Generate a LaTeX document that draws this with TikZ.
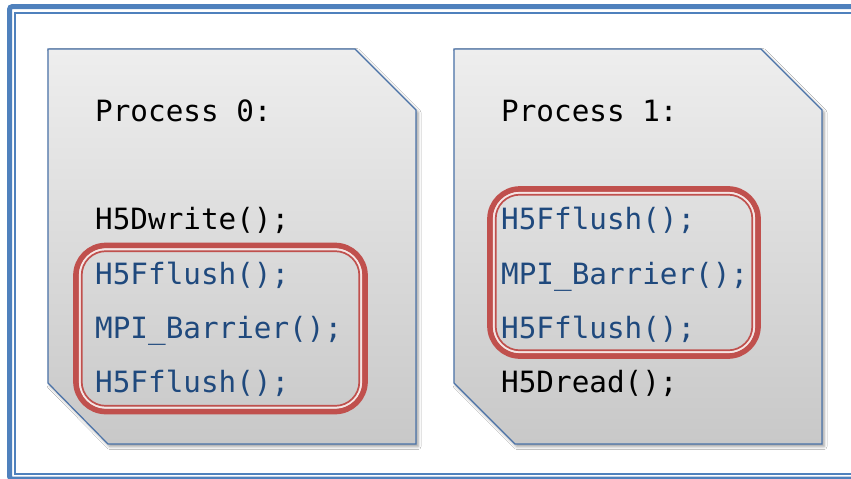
\documentclass[tikz,border=0pt]{standalone}
\usepackage{fontspec}
\newfontfamily\codefont{DejaVu Sans Mono}
\usetikzlibrary{shadows.blur}
\definecolor{frameblue}{HTML}{4F81BD}
\definecolor{cardedge}{HTML}{4A72A8}
\definecolor{cardtop}{HTML}{EEEEEE}
\definecolor{cardbot}{HTML}{C8C8C8}
\definecolor{syncred}{HTML}{C0504D}
\definecolor{callblue}{RGB}{31,73,125}
\tikzset{
  card/.style={draw=cardedge, line width=1.2pt, top color=cardtop, bottom color=cardbot,
    blur shadow={shadow xshift=2pt, shadow yshift=-2.5pt, shadow blur radius=3pt, shadow opacity=40}},
  code/.style={anchor=base west, inner sep=0pt, font=\codefont\fontsize{29.3}{34}\selectfont},
  plain/.style={code, text=black},
  sync/.style={code, text=callblue},
  redthick/.style={draw=syncred, line width=5.7pt, rounded corners=30pt},
  redgap/.style={draw=white!85!syncred, line width=2pt, rounded corners=26pt},
  redthin/.style={draw=syncred, line width=1.7pt, rounded corners=24pt},
}
\begin{document}
\begin{tikzpicture}[x=1pt, y=-1pt]
\useasboundingbox (0,0) rectangle (851,479);
\fill[white] (0,0) rectangle (851,479);

% outer double frame
\draw[frameblue, line width=5pt, rounded corners=3pt] (9.5,6.5) rectangle (880,479.2);
\draw[frameblue, line width=2pt] (15,13.2) rectangle (870,474.2);

% process cards with clipped corners
\path[card] (48,49) -- (355,49) -- (416,110) -- (416,444) -- (108,444) -- (48,383) -- cycle;
\path[card] (454,49) -- (761,49) -- (822,110) -- (822,444) -- (515,444) -- (454,383) -- cycle;

% synchronisation groups (thick-thin red outline)
\foreach \xa/\ya/\xb/\yb in {76/245.5/365/411.5, 490/189/758/356} {
  \draw[redthick] (\xa,\ya) rectangle (\xb,\yb);
  \draw[redgap] (\xa+3.85,\ya+3.85) rectangle (\xb-3.85,\yb-3.85);
  \draw[redthin] (\xa+5.7,\ya+5.7) rectangle (\xb-5.7,\yb-5.7);
}

% process 0
\node[plain] (p0)  at (95,121.7) {Process 0:};
\node[plain] (w0)  at (95,229)   {H5Dwrite();};
\node[sync]  (f0a) at (95,284)   {H5Fflush();};
\node[sync]  (b0)  at (95,338)   {MPI\_Barrier();};
\node[sync]  (f0b) at (95,392)   {H5Fflush();};

% process 1
\node[plain] (p1)  at (501,121.7) {Process 1:};
\node[sync]  (f1a) at (501,229)   {H5Fflush();};
\node[sync]  (b1)  at (501,284)   {MPI\_Barrier();};
\node[sync]  (f1b) at (501,338)   {H5Fflush();};
\node[plain] (r1)  at (501,392)   {H5Dread();};
\end{tikzpicture}
\end{document}
